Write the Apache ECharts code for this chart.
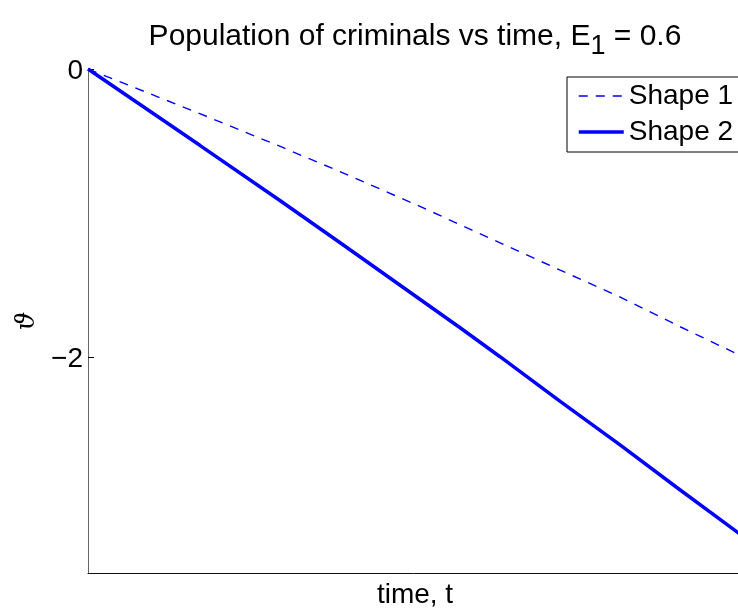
<!DOCTYPE html>
<html>
<head>
<meta charset="utf-8">
<script src="https://cdn.jsdelivr.net/npm/echarts@6/dist/echarts.min.js"></script>
<style>
html,body{margin:0;padding:0;background:#fff;}
#chart{width:738px;height:608px;}
</style>
</head>
<body>
<div id="chart"></div>
<script>
// Data
const seriesNames = ["Shape 1", "Shape 2"];
const shape1T = [0, 0.171, 0.294, 0.385, 0.505, 0.722, 0.813, 0.905, 1.0];
const shape1Y = [0, -0.310, -0.538, -0.712, -0.949, -1.397, -1.582, -1.789, -1.995];
const shape2T = [0, 0.171, 0.294, 0.385, 0.569, 0.630, 0.722, 0.813, 0.905, 1.0];
const shape2Y = [0, -0.530, -0.915, -1.205, -1.797, -1.998, -2.308, -2.609, -2.922, -3.240];
const yTickValues = [0, -2];

const pairs = (xs, ys) => xs.map((x, i) => [x, ys[i]]);
const FONT = 'Liberation Sans';

const chart = echarts.init(document.getElementById('chart'), null, {renderer: 'canvas'});
chart.setOption({
  animation: false,
  backgroundColor: '#fff',
  title: {
    text: 'Population of criminals vs time, E{sub|1} = 0.6',
    left: 410,
    textAlign: 'center',
    top: 9,
    textStyle: {
      fontFamily: FONT, fontSize: 30, fontWeight: 'normal', color: '#000',
      rich: {
        sub: {fontFamily: FONT, fontSize: 27, color: '#000', padding: [19, 0, 0, 0]}
      }
    }
  },
  legend: {
    orient: 'vertical',
    left: 567,
    top: 77,
    padding: [4, 40, 5, 10],
    itemGap: 6,
    itemWidth: 45,
    itemHeight: 14,
    backgroundColor: '#fff',
    borderColor: '#000',
    borderWidth: 1,
    borderRadius: 0,
    itemStyle: {color: 'rgba(0,0,0,0)', borderWidth: 0, opacity: 0},
    lineStyle: {width: 'inherit'},
    textStyle: {fontFamily: FONT, fontSize: 28, color: '#000', lineHeight: 30},
    data: seriesNames
  },
  grid: {left: 88, right: -4, top: 69, bottom: 35, containLabel: false, outerBoundsMode: 'none'},
  xAxis: {
    type: 'value',
    min: 0, max: 1,
    name: 'time, t',
    nameLocation: 'middle',
    nameGap: 8,
    nameTextStyle: {fontFamily: FONT, fontSize: 28, color: '#000'},
    axisLine: {show: true, onZero: false, lineStyle: {color: '#111', width: 1}},
    axisTick: {show: false},
    axisLabel: {show: false},
    splitLine: {show: false}
  },
  yAxis: {
    type: 'value',
    min: -3.5, max: 0,
    name: 'ϑ',
    nameLocation: 'middle',
    nameRotate: 90,
    nameGap: 41,
    nameTextStyle: {fontFamily: 'DejaVu Serif', fontStyle: 'italic', fontSize: 26, color: '#000'},
    axisLine: {show: true, onZero: false, lineStyle: {color: '#666', width: 1}},
    axisTick: {show: true, inside: true, length: 6, customValues: yTickValues, lineStyle: {color: '#000'}},
    axisLabel: {show: true, margin: 5, customValues: yTickValues, fontFamily: FONT, fontSize: 28, color: '#000',
      verticalAlign: 'top', lineHeight: 4,
      formatter: v => (v < 0 ? '\u2212' + Math.abs(v) : String(v))},
    splitLine: {show: false}
  },
  series: [
    {
      name: seriesNames[0], type: 'line', showSymbol: false, symbol: 'none',
      lineStyle: {color: '#0000ff', width: 1.4, type: [9, 8]},
      itemStyle: {color: '#0000ff'},
      data: pairs(shape1T, shape1Y)
    },
    {
      name: seriesNames[1], type: 'line', showSymbol: false, symbol: 'none',
      lineStyle: {color: '#0000ff', width: 3.5},
      itemStyle: {color: '#0000ff'},
      data: pairs(shape2T, shape2Y)
    }
  ]
});
</script>
</body>
</html>
